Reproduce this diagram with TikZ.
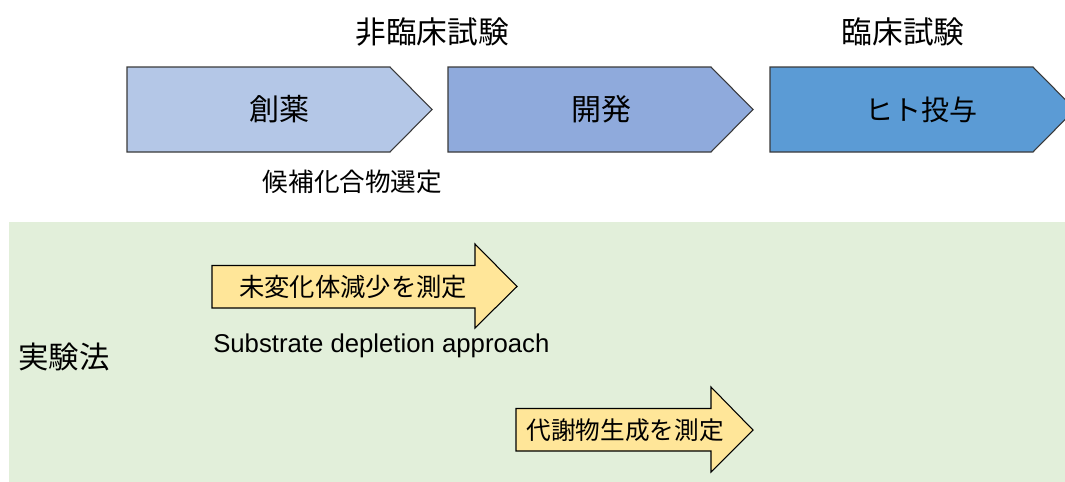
\documentclass[tikz,border=0pt]{standalone}
\usepackage{fontspec}
\setmainfont{Noto Sans CJK JP}
\newfontfamily\latinfont{Liberation Sans}
\definecolor{stepA}{HTML}{B4C7E7}
\definecolor{stepB}{HTML}{8FAADC}
\definecolor{stepC}{HTML}{5B9BD5}
\definecolor{bggreen}{HTML}{E2EFDA}
\definecolor{arrowyellow}{HTML}{FFE699}
\definecolor{edge}{HTML}{3A3A3A}
\tikzset{
  phase/.style={draw=edge, line width=0.8pt},
  yarrow/.style={fill=arrowyellow, draw=black, line width=0.8pt},
  lbl/.style={inner sep=0pt, text=black},
}
\begin{document}
\begin{tikzpicture}[x=0.75pt, y=-0.75pt]
\useasboundingbox (0,0) rectangle (1065,482);
\clip (0,0) rectangle (1065,482);
% green background
\fill[bggreen] (9,222) rectangle (1066,483);
% phase pentagons
\draw[phase, fill=stepA] (127,67) -- (390,67) -- (432,109.5) -- (390,152) -- (127,152) -- cycle;
\draw[phase, fill=stepB] (448,67) -- (711,67) -- (753,109.5) -- (711,152) -- (448,152) -- cycle;
\draw[phase, fill=stepC] (770,67) -- (1033,67) -- (1075,109.5) -- (1033,152) -- (770,152) -- cycle;
\node[lbl, font=\fontsize{22.5}{26}\selectfont] (soyaku) at (279,109.5) {創薬};
\node[lbl, font=\fontsize{22.5}{26}\selectfont] (kaihatsu) at (601,109.5) {開発};
\node[lbl, font=\fontsize{21}{26}\selectfont] (hito) at (921,109.5) {ヒト投与};
\node[lbl, font=\fontsize{23}{27}\selectfont] (hirinsho) at (432,32) {非臨床試験};
\node[lbl, font=\fontsize{23}{27}\selectfont] (rinsho) at (903,32) {臨床試験};
\node[lbl, font=\fontsize{19.2}{23}\selectfont] (kouho) at (352.5,182) {候補化合物選定};
% yellow arrows
\draw[yarrow] (212,265.5) -- (475,265.5) -- (475,244) -- (517,286.5) -- (475,328) -- (475,308) -- (212,308) -- cycle;
\draw[yarrow] (516,408.5) -- (711,408.5) -- (711,387) -- (753,430) -- (711,472) -- (711,451) -- (516,451) -- cycle;
\node[lbl, font=\fontsize{19}{22}\selectfont] (mihenka) at (353,287) {未変化体減少を測定};
\node[lbl, font=\fontsize{18.5}{22}\selectfont] (taisha) at (625,430) {代謝物生成を測定};
\node[lbl, font=\latinfont\fontsize{19.3}{23}\selectfont, anchor=west] (sda) at (213,346) {Substrate depletion approach};
\node[lbl, font=\fontsize{22.8}{27}\selectfont, anchor=west] (jikken) at (18,357) {実験法};
\end{tikzpicture}
\end{document}
